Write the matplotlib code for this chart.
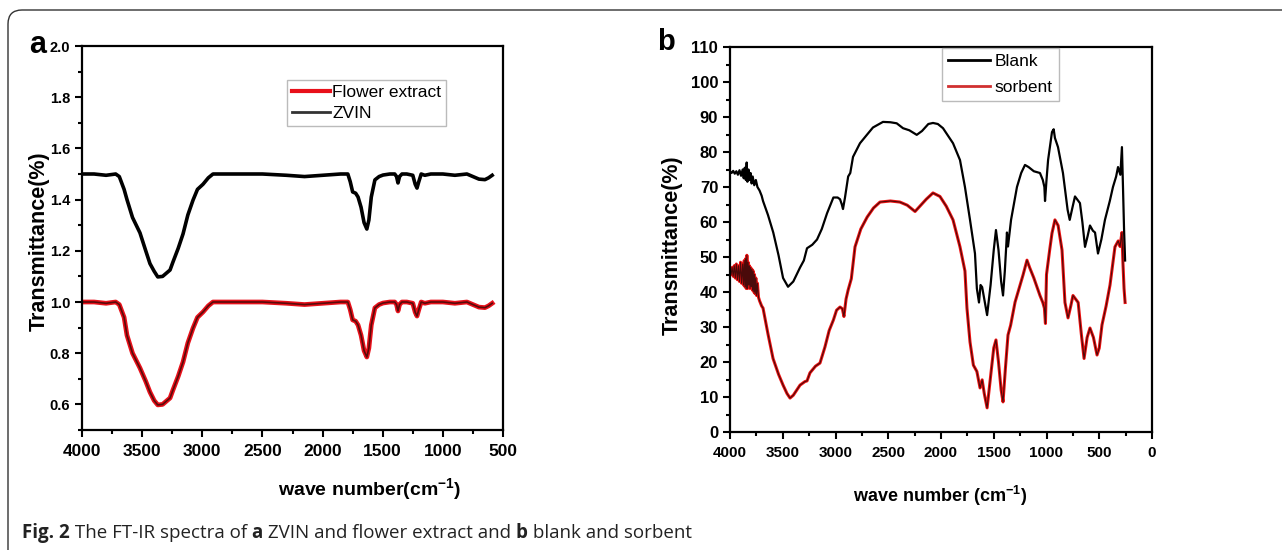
import numpy as np
import matplotlib
matplotlib.use("Agg")
import matplotlib.pyplot as plt
from matplotlib.patches import FancyBboxPatch
from matplotlib.transforms import IdentityTransform
from matplotlib.ticker import MultipleLocator

# ---- panel a: ZVIN and flower extract ----
wn_a = [4000, 3900, 3800, 3720, 3690, 3650, 3626, 3580, 3518, 3470, 3435, 3400,
        3370, 3330, 3268, 3244, 3200, 3160, 3120, 3077, 3040, 2994, 2950, 2911,
        2800, 2500, 2300, 2150, 2000, 1850, 1790, 1770, 1750, 1725, 1705, 1680,
        1655, 1632, 1615, 1595, 1565, 1530, 1497, 1440, 1400, 1385, 1373, 1360,
        1340, 1300, 1250, 1230, 1215, 1200, 1180, 1150, 1100, 1000, 900, 800,
        750, 700, 650, 620, 590]
zvin = [1.50, 1.50, 1.495, 1.50, 1.49, 1.44, 1.40, 1.33, 1.27, 1.20, 1.15, 1.12,
        1.098, 1.10, 1.125, 1.156, 1.21, 1.266, 1.34, 1.398, 1.44, 1.46, 1.485, 1.50,
        1.50, 1.50, 1.495, 1.49, 1.495, 1.50, 1.50, 1.47, 1.43, 1.425, 1.41, 1.37,
        1.31, 1.285, 1.32, 1.41, 1.477, 1.49, 1.496, 1.50, 1.50, 1.49, 1.465, 1.49,
        1.50, 1.50, 1.495, 1.46, 1.445, 1.47, 1.50, 1.495, 1.50, 1.50, 1.495, 1.50,
        1.49, 1.48, 1.478, 1.485, 1.495]
flower = [1.00, 1.00, 0.995, 1.00, 0.99, 0.94, 0.87, 0.80, 0.742, 0.69, 0.648, 0.615,
          0.598, 0.60, 0.625, 0.656, 0.71, 0.766, 0.84, 0.898, 0.94, 0.961, 0.985, 1.00,
          1.00, 1.00, 0.995, 0.99, 0.995, 1.00, 1.00, 0.97, 0.93, 0.925, 0.91, 0.87,
          0.81, 0.785, 0.82, 0.91, 0.977, 0.99, 0.996, 1.00, 1.00, 0.99, 0.965, 0.99,
          1.00, 1.00, 0.995, 0.96, 0.945, 0.97, 1.00, 0.995, 1.00, 1.00, 0.995, 1.00,
          0.99, 0.98, 0.978, 0.985, 0.995]

# ---- panel b: blank and sorbent ----
wn_blank = [4000, 3985, 3970, 3955, 3940, 3925, 3910, 3895, 3880, 3870, 3860, 3850,
            3842, 3835, 3825, 3815, 3805, 3795, 3785, 3770, 3755, 3740, 3720, 3700,
            3687, 3640, 3590, 3540, 3497, 3450, 3400, 3336, 3300, 3270, 3220, 3175,
            3130, 3080, 3020, 2980, 2957, 2940, 2929, 2910, 2880, 2860, 2834, 2768,
            2700, 2645, 2550, 2480, 2420, 2360, 2300, 2230, 2180, 2120, 2076, 2030,
            1981, 1886, 1820, 1773, 1725, 1678, 1660, 1640, 1625, 1610, 1590, 1563,
            1530, 1500, 1479, 1455, 1430, 1412, 1395, 1380, 1375, 1365, 1336, 1280,
            1240, 1204, 1170, 1120, 1062, 1035, 1020, 1014, 1000, 985, 948, 932, 920,
            891, 844, 800, 780, 755, 730, 683, 660, 635, 610, 588, 560, 540, 512,
            480, 446, 400, 370, 340, 322, 300, 285, 275, 265, 255]
blank = [74.5, 74.0, 74.6, 73.8, 74.5, 73.5, 74.8, 73.2, 75.0, 72.5, 75.5, 72.0,
         77.0, 71.5, 75.0, 72.0, 74.0, 71.0, 73.0, 70.5, 72.0, 70.0, 69.0, 67.5,
         66.0, 62.0, 57.0, 50.5, 44.0, 41.5, 43.0, 47.0, 49.0, 52.5, 53.5, 55.0,
         58.0, 62.5, 67.0, 67.0, 66.5, 65.0, 63.7, 67.0, 73.0, 74.0, 78.6, 82.5,
         85.0, 87.0, 88.6, 88.5, 88.2, 86.8, 86.2, 84.9, 86.0, 88.0, 88.3, 88.0,
         86.8, 82.5, 77.7, 70.0, 60.6, 51.0, 41.0, 37.0, 42.0, 41.4, 38.0, 33.4,
         42.0, 52.0, 57.7, 52.0, 43.0, 39.0, 46.0, 54.0, 57.0, 53.0, 60.6, 70.0,
         74.0, 76.3, 75.7, 74.5, 74.0, 72.0, 70.0, 66.0, 72.0, 77.7, 85.7, 86.5, 84.0,
         81.4, 74.0, 63.5, 60.6, 64.0, 67.3, 65.4, 60.0, 52.9, 56.0, 59.0, 57.5, 57.0, 51.0,
         55.0, 60.6, 66.0, 70.0, 73.0, 75.7, 73.5, 81.4, 70.0, 58.0, 49.0]

wn_sorb = [4000, 3990, 3980, 3970, 3960, 3950, 3940, 3930, 3920, 3910, 3900, 3890,
           3880, 3872, 3865, 3858, 3852, 3846, 3840, 3834, 3828, 3822, 3816, 3810,
           3804, 3798, 3792, 3786, 3780, 3774, 3768, 3762, 3755, 3748, 3740, 3730,
           3720, 3700,
           3687, 3640, 3592, 3540, 3497, 3460, 3431, 3400, 3336, 3290, 3270, 3242,
           3190, 3147, 3100, 3060, 3020, 2990, 2957, 2935, 2920, 2900, 2880, 2850,
           2815, 2760, 2700, 2640, 2578, 2480, 2390, 2320, 2246, 2200, 2140, 2076,
           2010, 1950, 1886, 1820, 1773, 1754, 1725, 1693, 1660, 1645, 1630, 1610,
           1590, 1563, 1530, 1500, 1479, 1455, 1430, 1412, 1390, 1365, 1340, 1298,
           1260, 1222, 1185, 1160, 1120, 1062, 1035, 1020, 1010, 1000, 970, 948, 920,
           890, 853, 825, 796, 770, 749, 700, 670, 644, 615, 588, 555, 521, 500,
           474, 435, 398, 351, 320, 303, 285, 275, 265, 255]
sorbent = [46.0, 45.0, 47.0, 44.5, 47.5, 44.0, 48.0, 43.5, 47.5, 43.0, 48.5, 42.5,
           48.0, 42.0, 49.0, 41.5, 49.5, 41.0, 50.5, 41.0, 48.5, 42.0, 47.5, 41.0,
           47.0, 41.5, 46.5, 40.5, 46.0, 40.0, 45.0, 39.5, 44.0, 39.0, 42.5, 38.5,
           37.5, 36.0,
           35.4, 28.0, 21.0, 16.5, 13.4, 11.0, 9.7, 10.5, 13.4, 14.4, 14.6, 16.9,
           18.8, 19.7, 24.3, 29.0, 32.0, 34.8, 35.7, 35.2, 33.0, 38.0, 40.6, 43.8,
           52.9, 58.0, 61.4, 64.0, 65.7, 66.0, 65.7, 64.8, 63.0, 64.5, 66.5, 68.3,
           67.3, 64.5, 60.6, 52.9, 46.0, 35.4, 25.7, 19.1, 17.3, 15.0, 12.6, 14.9,
           11.0, 6.9, 16.0, 24.0, 26.3, 20.0, 12.0, 8.6, 18.0, 27.7, 30.5, 37.1,
           41.0, 44.9, 49.1, 47.0, 44.0, 39.0, 37.0, 35.4, 31.0, 45.0, 52.0, 56.8, 60.6,
           59.0, 52.0, 37.0, 32.6, 36.0, 39.0, 37.0, 28.0, 21.0, 27.0, 29.7, 27.0, 22.0, 24.0,
           30.6, 36.0, 42.0, 52.9, 54.6, 53.0, 57.0, 48.0, 41.0, 37.0]

W, H = 1282, 550
font = 'Liberation Sans'
plt.rcParams['font.family'] = font
plt.rcParams['mathtext.fontset'] = 'custom'
plt.rcParams['mathtext.rm'] = font
plt.rcParams['mathtext.bf'] = font + ':bold'

fig = plt.figure(figsize=(W / 100, H / 100), dpi=100)
fig.patch.set_facecolor('white')

# rounded border around the figure
border = FancyBboxPatch((8, -40), 1320, 40 + (H - 10), boxstyle='round,pad=0,rounding_size=14',
                        transform=IdentityTransform(), facecolor='none',
                        edgecolor='#333333', linewidth=1.0)
fig.patches.append(border)


def style_axes(ax, xsize, ysize):
    for sp in ax.spines.values():
        sp.set_linewidth(1.6)
        sp.set_color('black')
    ax.tick_params(which='both', direction='out', top=False, right=False, width=1.5)
    ax.tick_params(which='major', length=5)
    ax.tick_params(which='minor', length=3)
    ax.tick_params(axis='x', labelsize=xsize)
    ax.tick_params(axis='y', labelsize=ysize)
    plt.setp(ax.get_xticklabels() + ax.get_yticklabels(), fontweight='bold')


# ---- panel a ----
ax1 = fig.add_axes([82 / W, 120 / H, 421 / W, 384 / H])
ax1.plot(wn_a, flower, color='#e8101a', lw=3.4, solid_joinstyle='round')
ax1.plot(wn_a, flower, color='#5a0a0a', lw=1.2, solid_joinstyle='round')
ax1.plot(wn_a, zvin, color='black', lw=2.6, solid_joinstyle='round')
ax1.set_xlim(4000, 500)
ax1.set_ylim(0.5, 2.0)
ax1.set_xticks(np.arange(4000, 499, -500))
ax1.xaxis.set_minor_locator(MultipleLocator(250))
ax1.set_yticks(np.arange(0.6, 2.01, 0.2))
ax1.set_yticklabels([f'{v:.1f}' for v in np.arange(0.6, 2.01, 0.2)])
ax1.yaxis.set_minor_locator(MultipleLocator(0.1))
style_axes(ax1, 12.5, 10.5)
ax1.tick_params(axis='x', pad=5)

leg_a = [plt.Line2D([], [], color='#e8101a', lw=3.0), plt.Line2D([], [], color='#333333', lw=2.0)]
la = ax1.legend(leg_a, ['Flower extract', 'ZVIN'], loc='upper left',
                bbox_to_anchor=((287 - 82) / 421, (430 - 80) / 384),
                prop={'size': 12.5}, frameon=True, fancybox=False,
                handlelength=2.2, handletextpad=0.1, borderpad=0.3, labelspacing=0.3,
                borderaxespad=0)
la.get_frame().set_edgecolor('#aaaaaa')
la.get_frame().set_linewidth(1.0)

fig.text(370 / W, 1 - 490 / H, r'wave number(cm$^{\mathbf{-1}}$)', ha='center', va='center',
         fontsize=14, fontweight='bold')
fig.text(39 / W, 1 - 241 / H, 'Transmittance(%)', rotation=90, ha='center', va='center',
         fontsize=15.5, fontweight='bold')
fig.text(38 / W, 1 - 45 / H, 'a', ha='center', va='center', fontsize=22, fontweight='bold')

# ---- panel b ----
ax2 = fig.add_axes([730 / W, 118 / H, 422 / W, 385 / H])
ax2.plot(wn_sorb, sorbent, color='#ee1111', lw=2.2, solid_joinstyle='round')
ax2.plot(wn_sorb, sorbent, color='#4a0a0a', lw=0.8, solid_joinstyle='round')
ax2.plot(wn_blank, blank, color='black', lw=1.6, solid_joinstyle='round')
ax2.set_xlim(4000, 0)
ax2.set_ylim(0, 110)
ax2.set_xticks(np.arange(4000, -1, -500))
ax2.xaxis.set_minor_locator(MultipleLocator(250))
ax2.set_yticks(np.arange(0, 111, 10))
ax2.yaxis.set_minor_locator(MultipleLocator(5))
style_axes(ax2, 11, 12)
ax2.tick_params(axis='x', pad=5)

leg_b = [plt.Line2D([], [], color='black', lw=2.0), plt.Line2D([], [], color='#d03030', lw=2.0)]
lb = ax2.legend(leg_b, ['Blank', 'sorbent'], loc='upper left',
                bbox_to_anchor=((942 - 730) / 422, (432 - 48) / 385),
                prop={'size': 12.5}, frameon=True, fancybox=False,
                handlelength=2.4, handletextpad=0.3, borderpad=0.35, labelspacing=0.6,
                borderaxespad=0)
lb.get_frame().set_edgecolor('#aaaaaa')
lb.get_frame().set_linewidth(1.0)

fig.text(940 / W, 1 - 496 / H, r'wave number (cm$^{\mathbf{-1}}$)', ha='center', va='center',
         fontsize=13, fontweight='bold')
fig.text(672 / W, 1 - 245 / H, 'Transmittance(%)', rotation=90, ha='center', va='center',
         fontsize=15.5, fontweight='bold')
fig.text(666 / W, 1 - 42 / H, 'b', ha='center', va='center', fontsize=21, fontweight='bold')

# ---- caption with mixed bold/regular pieces ----
caption = [('Fig. 2', 'bold'), (' The FT-IR spectra of ', 'normal'), ('a', 'bold'),
           (' ZVIN and flower extract and ', 'normal'), ('b', 'bold'),
           (' blank and sorbent', 'normal')]
renderer = fig.canvas.get_renderer()
x_px = 22
for txt, wt in caption:
    t = fig.text(x_px / W, 1 - 533 / H, txt, ha='left', va='center', fontsize=13.5,
                 fontweight=wt, family='Open Sans', color='#222222')
    x_px += t.get_window_extent(renderer).width

fig.savefig('out.png', dpi=100, facecolor='white')
